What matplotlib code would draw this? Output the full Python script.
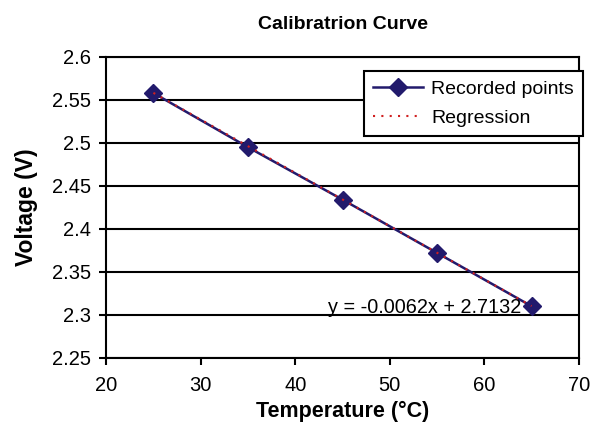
import numpy as np
import matplotlib
matplotlib.use("Agg")
import matplotlib.pyplot as plt

plt.rcParams['font.family'] = ['Liberation Sans', 'DejaVu Sans']

# recorded calibration points
temp = [25, 35, 45, 55, 65]
volt = [2.558, 2.495, 2.434, 2.372, 2.310]

# linear fit shown in the chart
slope = -0.0062
intercept = 2.7132
fit_x = np.array([25, 65])
fit_y = slope * fit_x + intercept

fig = plt.figure(figsize=(6.03, 4.28), dpi=100)
ax = fig.add_axes([0.176, 0.164, 0.784, 0.703])

ax.set_xlim(20, 70)
ax.set_ylim(2.25, 2.6)
ax.set_xticks(range(20, 71, 10))
yt = np.round(np.arange(2.25, 2.601, 0.05), 2)
ax.set_yticks(yt)
ax.set_yticklabels([f"{v:g}" for v in yt])
ax.grid(axis='y', color='black', linewidth=1.5)
ax.set_axisbelow(True)
for s in ax.spines.values():
    s.set_linewidth(1.5)
ax.tick_params(labelsize=14.5, width=1.5, length=5, direction='out')
ax.tick_params(axis='x', pad=8)
ax.tick_params(axis='y', pad=6)

ax.plot(temp, volt, color='#221a6c', linewidth=1.8, marker='D', markersize=9.5,
        markerfacecolor='#221a6c', markeredgecolor='#221a6c', label='Recorded points', zorder=3)
ax.plot(fit_x, fit_y, color='#d02020', linestyle=(0, (1, 3)), linewidth=1.5,
        label='Regression', zorder=4)

ax.text(63.9, 2.308, "y = -0.0062x + 2.7132", ha='right', va='center', fontsize=14.3)

leg = ax.legend(loc='upper right', bbox_to_anchor=(1.008, 0.952), fontsize=14,
                frameon=True, fancybox=False, framealpha=1, borderpad=0.45,
                handlelength=2.6, labelspacing=0.6, handletextpad=0.4, borderaxespad=0)
leg.get_frame().set_edgecolor('black')
leg.get_frame().set_linewidth(1.5)

ax.set_title("Calibratrion Curve", fontsize=14, fontweight='bold', pad=20)
ax.set_xlabel("Temperature (°C)", fontsize=15.5, fontweight='bold', labelpad=4)
ax.set_ylabel("Voltage (V)", fontsize=16.5, fontweight='bold', labelpad=10)

fig.savefig("out.png", dpi=100)
